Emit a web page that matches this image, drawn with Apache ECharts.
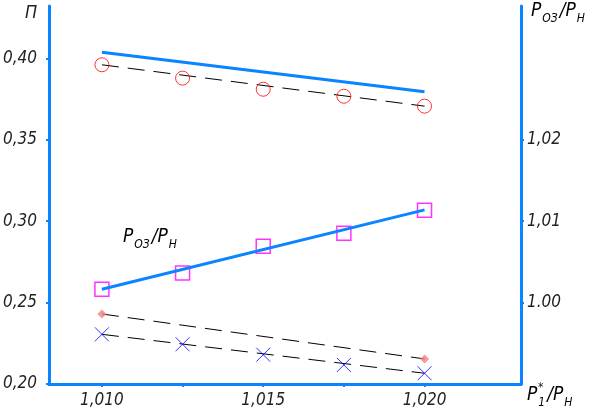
<!DOCTYPE html>
<html>
<head>
<meta charset="utf-8">
<script src="https://cdn.jsdelivr.net/npm/echarts@6/dist/echarts.min.js"></script>
<style>html,body{margin:0;padding:0;background:#fff}#c{width:596px;height:416px}</style>
</head>
<body>
<div id="c"></div>
<script>
// ---- data ----
const xPoints = [1.010, 1.0125, 1.015, 1.0175, 1.020];
const xEnds = [1.010, 1.020];
const xTickValues = [1.010, 1.0125, 1.015, 1.0175, 1.020];
const xLabelValues = [1.010, 1.015, 1.020];
const xLabelTexts = ['1,010', '1,015', '1,020'];
const yLeftValues = [0.20, 0.25, 0.30, 0.35, 0.40];
const yLeftTexts = ['0,20', '0,25', '0,30', '0,35', '0,40'];
const yRightValues = [1.00, 1.01, 1.02];
const yRightTexts = ['1.00', '1,01', '1,02'];

// П (left axis)
const piTopLine = [0.4037, 0.3795];           // thick blue line, top
const piCircles = [0.3960, 0.3878, 0.3810, 0.3767, 0.3706];
const piCirclesLine = [0.3960, 0.3706];
const piDiamonds = [0.2430, 0.2154];           // at 1.010 and 1.020
const piCrosses = [0.2305, 0.2244, 0.2180, 0.2117, 0.2066];
const piCrossesLine = [0.2305, 0.2066];
// Pоз/Pн (right axis)
const pozSquares = [1.00163, 1.00364, 1.00692, 1.00851, 1.01134];
const pozLine = [1.00163, 1.01138];

const BLUE = '#0a84ff';
const FONT = '"DejaVu Sans Condensed", "DejaVu Sans", sans-serif';
const TXT = '#222';

function pairs(xs, ys) { return xs.map((x, i) => [x, ys[i]]); }
function lookup(vals, texts) {
  return v => { for (let i = 0; i < vals.length; i++) if (Math.abs(vals[i] - v) < 1e-9) return texts[i]; return ''; };
}
const labelStyle = { fontSize: 17, fontStyle: 'italic', fontFamily: FONT, color: TXT };

const chart = echarts.init(document.getElementById('c'), null, { renderer: 'canvas' });
const dashed = { color: '#000', width: 1, type: [17, 9] };

const richM = { fontSize: 19, fontStyle: 'italic', fontFamily: FONT, color: TXT, lineHeight: 26, verticalAlign: 'middle' };
const richS = { fontSize: 12, fontStyle: 'italic', fontFamily: FONT, color: TXT, lineHeight: 14, verticalAlign: 'bottom', padding: [0, 2, 0, 1] };
function ratioText(x, y, first) {
  return { type: 'text', left: x, top: y, style: {
    text: '{m|P}{s|' + first + '}{m|/P}{s|Н}',
    rich: { m: richM, s: richS } } };
}

chart.setOption({
  animation: false,
  grid: { left: 49, right: 75, top: 6, bottom: 32, outerBoundsMode: 'none', containLabel: false },
  xAxis: {
    type: 'value', min: 1.00836, max: 1.02299,
    axisLine: { onZero: false, lineStyle: { color: BLUE, width: 3 } },
    axisTick: { customValues: xTickValues, length: 3, lineStyle: { color: BLUE, width: 2 } },
    axisLabel: Object.assign({ customValues: xLabelValues, margin: 8, formatter: lookup(xLabelValues, xLabelTexts) }, labelStyle),
    splitLine: { show: false }
  },
  yAxis: [{
    type: 'value', min: 0.20, max: 0.4321, position: 'left',
    axisLine: { show: true, onZero: false, lineStyle: { color: BLUE, width: 3 } },
    axisTick: { show: true, customValues: yLeftValues, length: 3, lineStyle: { color: BLUE, width: 2 } },
    axisLabel: Object.assign({ customValues: yLeftValues, margin: 12, formatter: lookup(yLeftValues, yLeftTexts) }, labelStyle),
    splitLine: { show: false }
  }, {
    type: 'value', min: 0.99, max: 1.03642, position: 'right',
    axisLine: { show: true, onZero: false, lineStyle: { color: BLUE, width: 3 } },
    axisTick: { show: true, customValues: yRightValues, length: 3, lineStyle: { color: BLUE, width: 2 } },
    axisLabel: Object.assign({ customValues: yRightValues, margin: 6, formatter: lookup(yRightValues, yRightTexts) }, labelStyle),
    splitLine: { show: false }
  }],
  series: [
    { type: 'line', data: pairs(xEnds, piCirclesLine), showSymbol: false, lineStyle: dashed, z: 2 },
    { type: 'line', data: pairs(xEnds, piDiamonds), showSymbol: false, lineStyle: dashed, z: 2 },
    { type: 'line', data: pairs(xEnds, piCrossesLine), showSymbol: false, lineStyle: dashed, z: 2 },
    { type: 'scatter', data: pairs(xPoints, piCircles), symbol: 'circle', symbolSize: 14,
      itemStyle: { color: 'transparent', borderColor: '#ff0000', borderWidth: 1 }, z: 3 },
    { type: 'scatter', data: pairs(xPoints, piCrosses), symbol: 'path://M0,0L10,10M10,0L0,10', symbolSize: 14,
      itemStyle: { color: 'none', borderColor: '#0000ff', borderWidth: 1 }, z: 3 },
    { type: 'scatter', data: pairs(xEnds, piDiamonds), symbol: 'diamond', symbolSize: 9,
      itemStyle: { color: '#f48080' }, z: 3 },
    { type: 'scatter', yAxisIndex: 1, data: pairs(xPoints, pozSquares), symbol: 'rect', symbolSize: 14,
      itemStyle: { color: 'transparent', borderColor: '#ff00ff', borderWidth: 1.5 }, z: 3 },
    { type: 'line', data: pairs(xEnds, piTopLine), showSymbol: false, lineStyle: { color: BLUE, width: 3 }, z: 4 },
    { type: 'line', yAxisIndex: 1, data: pairs(xEnds, pozLine), showSymbol: false, lineStyle: { color: BLUE, width: 3 }, z: 4 }
  ],
  graphic: [
    { type: 'text', left: 25, top: 4, style: { text: 'П', fontSize: 18, fontStyle: 'italic', fontFamily: FONT, fill: TXT } },
    ratioText(531, 2, 'ОЗ'),
    ratioText(123, 228, 'ОЗ'),
    ratioText(527, 386, '1'),
    { type: 'text', left: 538, top: 382, style: { text: '*', fontSize: 12, fontFamily: FONT, fill: TXT } }
  ]
});
</script>
</body>
</html>
